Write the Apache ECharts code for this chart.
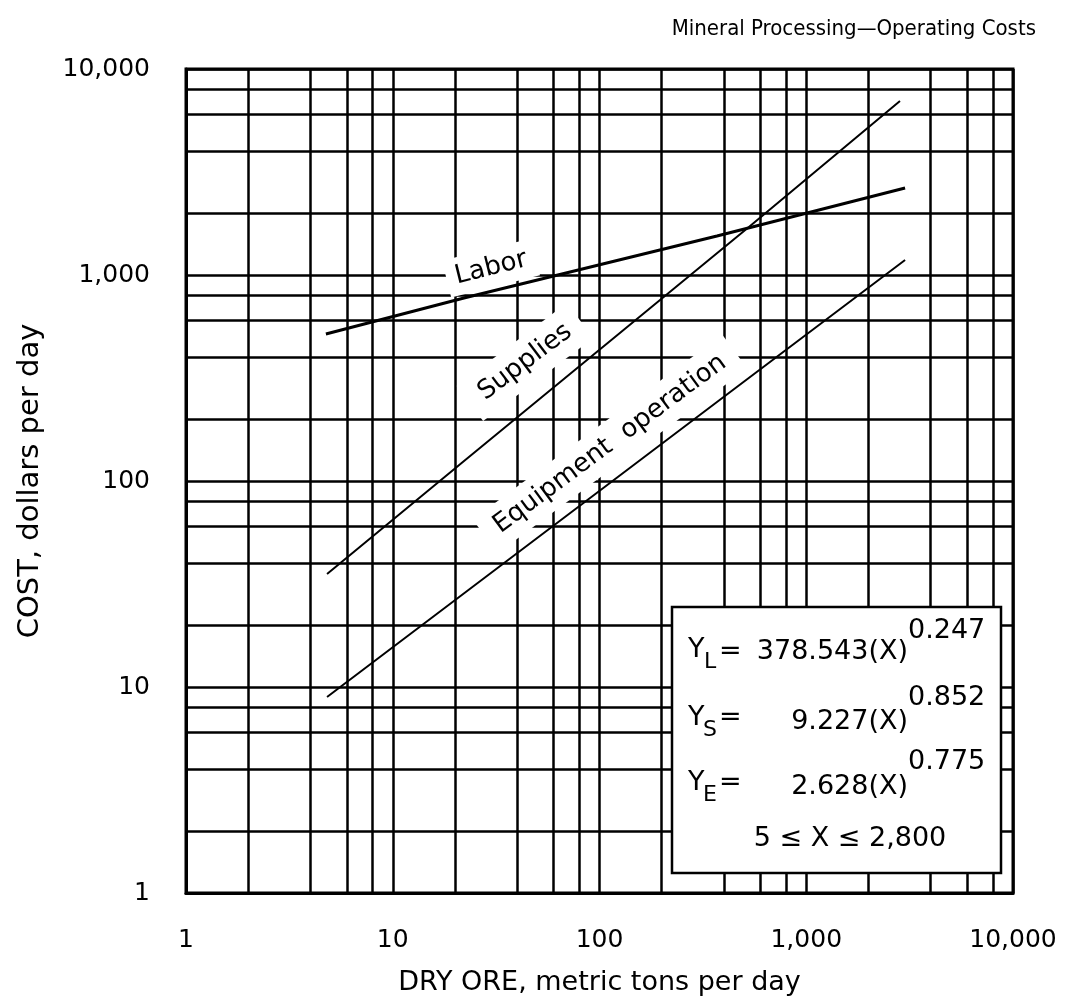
<!DOCTYPE html>
<html>
<head>
<meta charset="utf-8">
<script src="https://cdn.jsdelivr.net/npm/echarts@6/dist/echarts.min.js"></script>
<style>html,body{margin:0;padding:0;background:#fff}#c{width:1069px;height:1007px}</style>
</head>
<body>
<div id="c"></div>
<script>
// ---- data ----
const xTickLabels = ['1', '10', '100', '1,000', '10,000'];
const yTickLabels = ['1', '10', '100', '1,000', '10,000'];
const xMinorGrid = [2, 4, 6, 8, 20, 40, 60, 80, 200, 400, 600, 800, 2000, 4000, 6000, 8000];
const yMinorGrid = [2, 4, 6, 8, 20, 40, 60, 80, 200, 400, 600, 800, 2000, 4000, 6000, 8000];

const laborX = [4.75, 22.1, 370, 3006];
const laborY = [517, 773, 1546, 2644];
const suppliesX = [4.81, 21.9, 528, 2840];
const suppliesY = [35.4, 124, 1710, 6995];
const equipX = [4.81, 10.0, 370, 3006];
const equipY = [8.94, 15.6, 242, 1183];

const FONT = 'DejaVu Sans';
const FONT_C = 'DejaVu Sans Condensed, DejaVu Sans';
const pair = (xs, ys) => xs.map((x, i) => [x, ys[i]]);
const tickFmt = arr => v => {
  const i = Math.round(Math.log10(v));
  return arr[i] !== undefined ? arr[i] : '';
};

const chart = echarts.init(document.getElementById('c'), null, { renderer: 'canvas' });

const gridLines = xMinorGrid.map(v => ({ xAxis: v })).concat(yMinorGrid.map(v => ({ yAxis: v })));

function txt(text, x, y, size, align) {
  return {
    type: 'text', x: x, y: y, z: 110,
    style: {
      text: text, fill: '#000', fontSize: size, fontFamily: FONT,
      align: align, textAlign: align, verticalAlign: 'middle', textVerticalAlign: 'middle'
    }
  };
}
function curveLabel(text, x, y, deg, pad) {
  return {
    type: 'text', x: x, y: y, rotation: deg * Math.PI / 180, z: 105,
    style: {
      text: text, fill: '#000', fontSize: 26, fontFamily: FONT,
      align: 'center', textAlign: 'center', verticalAlign: 'middle', textVerticalAlign: 'middle',
      backgroundColor: '#fff', padding: pad
    }
  };
}

const option = {
  animation: false,
  backgroundColor: '#fff',
  title: {
    text: 'Mineral Processing\u2014Operating Costs',
    right: 28, top: 13,
    textStyle: { fontFamily: FONT_C, fontSize: 22, fontWeight: 'normal', color: '#000' }
  },
  grid: {
    left: 186, right: 56, top: 69, bottom: 114,
    containLabel: false, outerBoundsMode: 'none',
    show: true, borderColor: '#000', borderWidth: 3, backgroundColor: 'transparent'
  },
  xAxis: {
    type: 'log', logBase: 10, min: 1, max: 10000,
    name: 'DRY ORE, metric tons per day', nameLocation: 'middle', nameGap: 76,
    nameTextStyle: { fontFamily: FONT, fontSize: 27, color: '#000' },
    axisLine: { show: true, lineStyle: { color: '#000', width: 3 } },
    axisTick: { show: false },
    axisLabel: { formatter: tickFmt(xTickLabels), fontFamily: FONT, fontSize: 25, color: '#000', margin: 35 },
    splitLine: { show: true, lineStyle: { color: '#000', width: 2.5 } },
    minorTick: { show: false }, minorSplitLine: { show: false }
  },
  yAxis: {
    type: 'log', logBase: 10, min: 1, max: 10000,
    name: 'COST, dollars per day', nameLocation: 'middle', nameGap: 141, nameRotate: 90,
    nameTextStyle: { fontFamily: FONT, fontSize: 29, color: '#000' },
    axisLine: { show: true, lineStyle: { color: '#000', width: 3 } },
    axisTick: { show: false },
    axisLabel: { formatter: tickFmt(yTickLabels), fontFamily: FONT, fontSize: 25, color: '#000', margin: 36 },
    splitLine: { show: true, lineStyle: { color: '#000', width: 2.5 } },
    minorTick: { show: false }, minorSplitLine: { show: false }
  },
  series: [
    {
      name: 'Labor', type: 'line', data: pair(laborX, laborY), symbol: 'none',
      lineStyle: { color: '#000', width: 3 }, itemStyle: { color: '#000' }, z: 3,
      markLine: {
        silent: true, symbol: ['none', 'none'], label: { show: false },
        lineStyle: { color: '#000', width: 2.5, type: 'solid' },
        emphasis: { disabled: true },
        data: gridLines
      }
    },
    {
      name: 'Supplies', type: 'line', data: pair(suppliesX, suppliesY), symbol: 'none',
      lineStyle: { color: '#000', width: 2 }, itemStyle: { color: '#000' }, z: 3
    },
    {
      name: 'Equipment operation', type: 'line', data: pair(equipX, equipY), symbol: 'none',
      lineStyle: { color: '#000', width: 2 }, itemStyle: { color: '#000' }, z: 3
    }
  ],
  graphic: [
    curveLabel('Labor', 491, 268, 14, [6, 9]),
    curveLabel('Supplies', 525, 362, 37, [9, 14]),
    curveLabel('Equipment  operation', 610, 444, 36.5, [8, 14]),
    {
      type: 'rect', z: 100,
      shape: { x: 672, y: 607, width: 329, height: 266 },
      style: { fill: '#fff', stroke: '#000', lineWidth: 2.5 }
    },
    // Y_L line
    txt('Y', 688, 650, 27, 'left'),
    txt('L', 704, 662, 22, 'left'),
    txt('=', 719, 652, 27, 'left'),
    txt('378.543(X)', 908, 652, 27, 'right'),
    txt('0.247', 908, 631, 27, 'left'),
    // Y_S line
    txt('Y', 688, 718, 27, 'left'),
    txt('S', 703, 730, 22, 'left'),
    txt('=', 719, 718, 27, 'left'),
    txt('9.227(X)', 908, 722, 27, 'right'),
    txt('0.852', 908, 698, 27, 'left'),
    // Y_E line
    txt('Y', 688, 783, 27, 'left'),
    txt('E', 703, 795, 22, 'left'),
    txt('=', 719, 783, 27, 'left'),
    txt('2.628(X)', 908, 787, 27, 'right'),
    txt('0.775', 908, 762, 27, 'left'),
    // range
    txt('5 \u2264 X \u2264 2,800', 850, 839, 27, 'center')
  ]
};
chart.setOption(option);
</script>
</body>
</html>
